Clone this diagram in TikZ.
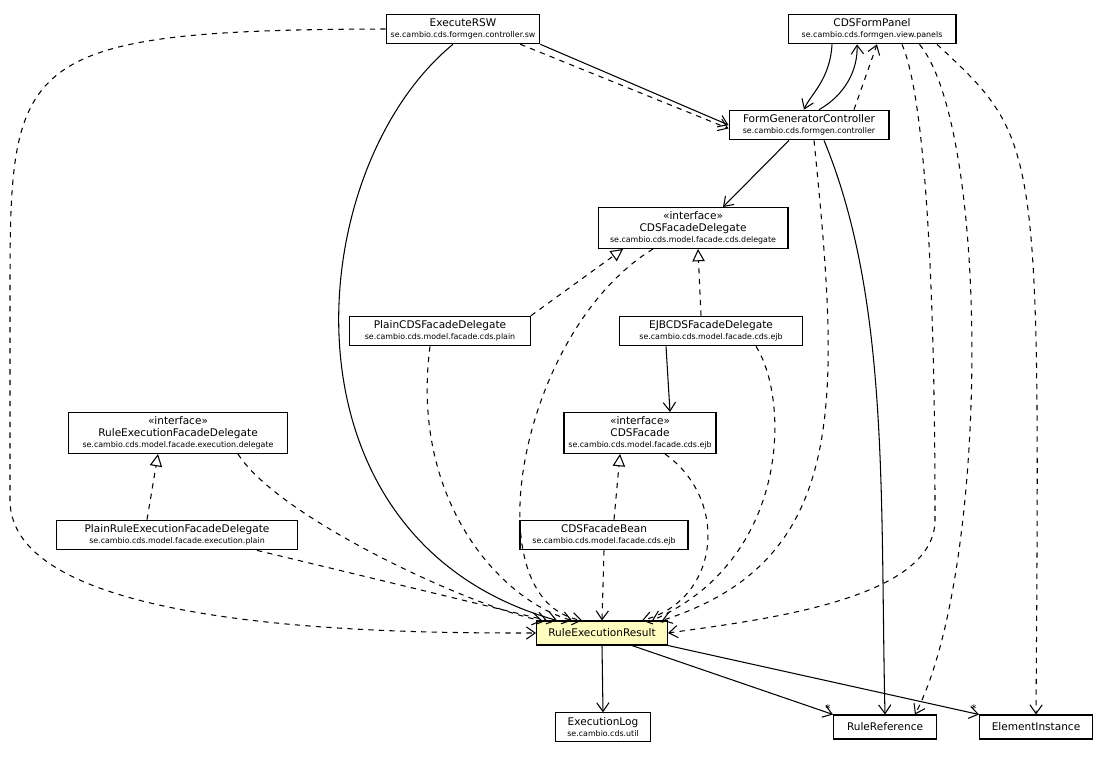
\documentclass[tikz,border=0pt]{standalone}
\usepackage{fontspec}
\setmainfont{DejaVu Sans}
\usetikzlibrary{arrows.meta}

\begin{document}
\begin{tikzpicture}[
  x=0.02cm, y=-0.02cm,
  classsty/.style={draw, fill=white, semithick, align=center, inner sep=2.5pt, font=\fontsize{6}{7.4}\selectfont},
  resultsty/.style={classsty, fill=yellow!25, minimum height=0.48cm},
  uses/.style={-{Straight Barb[length=5pt,width=7pt]}, semithick},
  depends/.style={uses, dashed},
  realizes/.style={-{Triangle[open,length=7pt,width=7pt]}, semithick, dashed},
  multsty/.style={font=\fontsize{6}{7}\selectfont, inner sep=1pt}]

\newcommand{\pkg}[1]{\\[-1pt]{\fontsize{4.5}{5}\selectfont #1}}

\useasboundingbox (0,0) rectangle (1111,757);

\node[classsty, minimum width=2.98cm] (er)   at (463,29)  {ExecuteRSW\pkg{se.cambio.cds.formgen.controller.sw}};
\node[classsty, minimum width=3.36cm] (fp)   at (872,29)  {CDSFormPanel\pkg{se.cambio.cds.formgen.view.panels}};
\node[classsty, minimum width=3.2cm]  (fgc)  at (809,125) {FormGeneratorController\pkg{se.cambio.cds.formgen.controller}};
\node[classsty, minimum width=3.8cm]  (fd)   at (693,228) {«interface»\\[-1pt]CDSFacadeDelegate\pkg{se.cambio.cds.model.facade.cds.delegate}};
\node[classsty, minimum width=3.62cm] (pfd)  at (440,331) {PlainCDSFacadeDelegate\pkg{se.cambio.cds.model.facade.cds.plain}};
\node[classsty, minimum width=3.66cm] (efd)  at (711,331) {EJBCDSFacadeDelegate\pkg{se.cambio.cds.model.facade.cds.ejb}};
\node[classsty, minimum width=4.38cm] (ref)  at (178,433) {«interface»\\[-1pt]RuleExecutionFacadeDelegate\pkg{se.cambio.cds.model.facade.execution.delegate}};
\node[classsty, minimum width=2.8cm]  (cf)   at (640,433) {«interface»\\[-1pt]CDSFacade\pkg{se.cambio.cds.model.facade.cds.ejb}};
\node[classsty, minimum width=4.82cm] (pref) at (177,535) {PlainRuleExecutionFacadeDelegate\pkg{se.cambio.cds.model.facade.execution.plain}};
\node[classsty, minimum width=3.36cm] (cfb)  at (604,535) {CDSFacadeBean\pkg{se.cambio.cds.model.facade.cds.ejb}};
\node[resultsty, minimum width=2.62cm] (rer) at (602,633) {RuleExecutionResult};
\node[classsty, minimum width=1.9cm]  (el)   at (603,727) {ExecutionLog\pkg{se.cambio.cds.util}};
\node[resultsty, fill=white, minimum width=2.06cm] (rr) at (885,727) {RuleReference};
\node[resultsty, fill=white, minimum width=2.26cm] (ei) at (1036,727) {ElementInstance};

% ExecuteRSW
\draw[uses] (er.south east) -- (fgc.west);
\draw[depends] ([xshift=-0.4cm]er.south east) -- ([yshift=-2pt]fgc.west);
\draw[uses] ([xshift=-0.2cm]er.south) .. controls (300,170) and (270,540) .. ([xshift=-0.9cm]rer.north);
\draw[depends] (er.west) .. controls (10,30) and (10,60) .. (10,300) -- (10,500) .. controls (10,633) and (400,633) .. (rer.west);

% CDSFormPanel
\draw[uses] ([xshift=-0.8cm]fp.south) .. controls (830,80) and (810,95) .. ([xshift=-0.1cm]fgc.north);
\draw[uses] ([xshift=0.2cm]fgc.north) .. controls (845,95) and (858,70) .. ([xshift=-0.3cm]fp.south);
\draw[depends] ([xshift=0.9cm]fgc.north) -- ([xshift=0.1cm]fp.south);
\draw[depends] ([xshift=0.6cm]fp.south) .. controls (935,120) and (935,450) .. (935,520) .. controls (935,600) and (760,620) .. (rer.east);
\draw[depends] ([xshift=0.95cm]fp.south) .. controls (990,130) and (990,570) .. ([xshift=0.6cm]rr.north);
\draw[depends] ([xshift=1.3cm]fp.south) .. controls (1040,140) .. (ei.north);

% FormGeneratorController
\draw[uses] ([xshift=-0.4cm]fgc.south) -- ([xshift=0.6cm]fd.north);
\draw[depends] ([xshift=0.1cm]fgc.south) .. controls (840,400) and (850,560) .. ([xshift=1.2cm]rer.north);
\draw[uses] ([xshift=0.3cm]fgc.south) .. controls (890,300) and (880,500) .. (rr.north);

% delegates
\draw[realizes] (pfd.north east) -- ([xshift=-1.4cm]fd.south);
\draw[realizes] ([xshift=-0.2cm]efd.north) -- ([xshift=0.1cm]fd.south);
\draw[depends] ([xshift=-0.8cm]fd.south) .. controls (520,330) and (470,600) .. ([xshift=-0.4cm]rer.north);
\draw[depends] ([xshift=-0.2cm]pfd.south) .. controls (410,500) and (500,600) .. ([xshift=-0.6cm]rer.north);
\draw[uses] ([xshift=-0.9cm]efd.south) -- ([xshift=0.6cm]cf.north);
\draw[depends] ([xshift=0.9cm]efd.south) .. controls (790,400) and (790,560) .. ([xshift=1cm]rer.north);
\draw[realizes] ([xshift=-0.6cm]pref.north) -- ([xshift=-0.4cm]ref.south);
\draw[depends] ([xshift=1.2cm]ref.south) .. controls (280,520) and (480,610) .. ([xshift=-1.2cm]rer.north);
\draw[depends] ([xshift=1.6cm]pref.south) -- ([xshift=-1.1cm]rer.north);
\draw[realizes] ([xshift=0.2cm]cfb.north) -- ([xshift=-0.4cm]cf.south);
\draw[depends] ([xshift=0.5cm]cf.south) .. controls (730,500) and (720,600) .. ([xshift=0.8cm]rer.north);
\draw[depends] (cfb.south) -- (rer.north);

% RuleExecutionResult
\draw[uses] (rer.south) -- (el.north);
\draw[uses] ([xshift=0.6cm]rer.south) -- (rr.north west) node[multsty, above left] {*};
\draw[uses] (rer.south east) -- (ei.north west) node[multsty, above left] {*};

\end{tikzpicture}
\end{document}
